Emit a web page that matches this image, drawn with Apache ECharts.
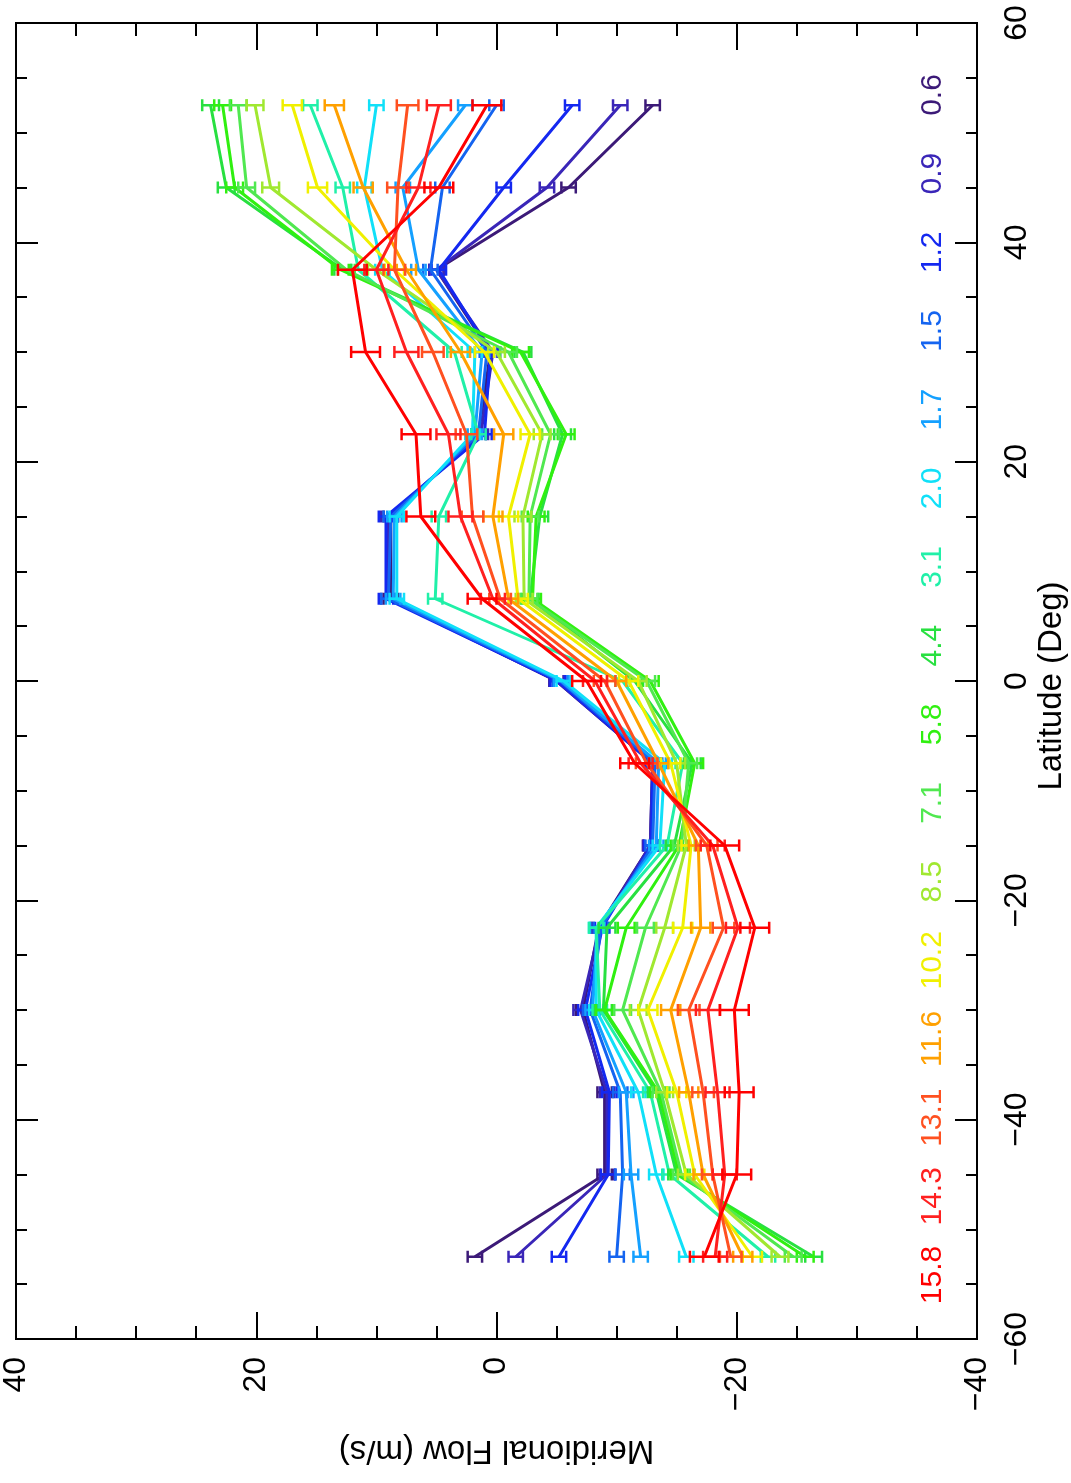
<!DOCTYPE html>
<html><head><meta charset="utf-8">
<script src="https://cdn.jsdelivr.net/npm/echarts@6/dist/echarts.min.js"></script>
<style>html,body{margin:0;padding:0;background:#fff}#c{width:1071px;height:1483px}</style>
</head><body><div id="c"></div>
<script>
// Latitude bins (deg)
const latitudes = [-52.5, -45, -37.5, -30, -22.5, -15, -7.5, 0, 7.5, 15, 22.5, 30, 37.5, 45, 52.5];
// Legend labels (depth / band values) and colours
const seriesLabels = ['0.6','0.9','1.2','1.5','1.7','2.0','3.1','4.4','5.8','7.1','8.5','10.2','11.6','13.1','14.3','15.8'];
const seriesColors = ['#3c1a78','#3a26b8','#1428f0','#1464f0','#14a0ff','#10e0f8','#20f0a8','#28e040','#30f010','#50e850','#a0e830','#f0f000','#ffa000','#ff5020','#ff2020','#ff0000'];
// Meridional flow (m/s) per series, ordered as latitudes
const flow_0_6  = [1.8, -9.0, -9.0, -7.2, -8.5, -12.8, -13.0, -5.0, 8.8, 8.8, 1.5, 0.5, 5.0, -6.0, -13.0];
const flow_0_9  = [-1.6, -9.2, -9.2, -7.0, -8.6, -12.8, -13.0, -5.0, 9.0, 9.0, 1.3, 0.3, 5.0, -4.2, -10.3];
const flow_1_2  = [-5.2, -9.3, -9.4, -7.4, -8.8, -12.9, -13.0, -5.1, 9.2, 9.2, 1.0, 0.5, 4.8, -0.6, -6.3];
const flow_1_5  = [-10.0, -10.5, -10.3, -7.8, -8.7, -13.0, -13.2, -5.3, 9.0, 8.8, 1.5, 0.8, 5.5, 4.5, 0.0];
const flow_1_7  = [-12.0, -11.2, -10.8, -8.0, -8.4, -13.3, -13.5, -5.4, 8.6, 8.5, 1.8, 1.2, 6.5, 7.8, 2.6];
const flow_2_0  = [-15.8, -13.3, -11.8, -8.3, -8.3, -13.6, -14.0, -5.6, 8.3, 8.3, 2.0, 1.8, 9.5, 11.0, 10.0];
const flow_3_1  = [-22.6, -14.4, -12.8, -8.6, -8.3, -14.2, -15.5, -10.5, 5.1, 4.8, 1.5, 3.5, 11.5, 12.8, 15.5];
const flow_4_4  = [-26.4, -15.0, -13.3, -8.9, -9.2, -14.8, -16.3, -11.5, -2.8, -3.6, -5.5, -2.2, 12.8, 22.5, 23.8];
const flow_5_8  = [-25.7, -15.2, -13.5, -9.0, -10.8, -15.2, -16.5, -12.8, -3.0, -3.3, -5.8, -2.0, 13.0, 21.8, 22.8];
const flow_7_1  = [-24.7, -15.4, -13.7, -10.5, -12.4, -15.4, -16.0, -12.5, -2.7, -2.8, -4.5, -1.0, 12.5, 20.8, 21.5];
const flow_8_5  = [-23.6, -15.8, -14.0, -11.8, -14.0, -15.8, -15.0, -11.8, -2.3, -2.2, -3.8, 0.0, 10.0, 18.8, 20.1];
const flow_10_2 = [-21.3, -16.5, -15.0, -12.6, -15.5, -16.2, -14.5, -11.0, -1.8, -1.0, -2.8, 1.0, 8.5, 14.9, 17.0];
const flow_11_6 = [-20.5, -17.2, -16.0, -14.5, -17.0, -16.8, -13.5, -10.0, -1.0, 0.3, -0.6, 3.0, 7.5, 11.1, 13.5];
const flow_13_1 = [-19.5, -18.0, -17.2, -16.0, -18.9, -17.5, -12.5, -9.0, -0.3, 2.0, 2.5, 5.3, 8.5, 8.2, 7.4];
const flow_14_3 = [-18.2, -19.0, -18.4, -17.6, -20.1, -18.0, -12.0, -8.2, 0.3, 3.0, 4.0, 7.5, 10.0, 6.5, 4.8];
const flow_15_8 = [-17.3, -20.0, -20.2, -19.8, -21.5, -19.0, -11.5, -7.5, 1.2, 6.3, 6.7, 10.9, 12.0, 4.8, 0.8];
// Half-width of error bars (m/s) per series
const errorHalf = [0.6, 0.6, 0.6, 0.6, 0.6, 0.6, 0.6, 0.7, 0.7, 0.7, 0.7, 0.8, 0.8, 0.9, 1.0, 1.2];
// Axis tick values
const flowTicks = [40, 20, 0, -20, -40];
const latTicks = [-60, -40, -20, 0, 20, 40, 60];

const allFlows = [flow_0_6, flow_0_9, flow_1_2, flow_1_5, flow_1_7, flow_2_0, flow_3_1, flow_4_4, flow_5_8, flow_7_1, flow_8_5, flow_10_2, flow_11_6, flow_13_1, flow_14_3, flow_15_8];

const FONT = '"Liberation Sans", Arial, Helvetica, sans-serif';
const minus = v => String(v).replace('-', '\u2212');

const series = [];
allFlows.forEach((fl, k) => {
  const color = seriesColors[k];
  series.push({
    type: 'line', name: seriesLabels[k], xAxisIndex: 0, yAxisIndex: 0,
    data: fl.map((f, i) => [f, latitudes[i]]),
    showSymbol: false, symbol: 'none', z: 2 + k * 0.01,
    lineStyle: { color, width: 3 }, itemStyle: { color },
    silent: true
  });
  series.push({
    type: 'custom', name: seriesLabels[k] + ' err', xAxisIndex: 0, yAxisIndex: 0,
    z: 2 + k * 0.01 + 0.005, silent: true,
    data: fl.map((f, i) => [f, latitudes[i], errorHalf[k]]),
    renderItem: (params, api) => {
      const f = api.value(0), lat = api.value(1), e = api.value(2);
      const a = api.coord([f - e, lat]), b = api.coord([f + e, lat]);
      const h = 6, st = { stroke: color, lineWidth: 2.5 };
      return { type: 'group', children: [
        { type: 'line', shape: { x1: a[0], y1: a[1], x2: b[0], y2: b[1] }, style: st },
        { type: 'line', shape: { x1: a[0], y1: a[1] - h, x2: a[0], y2: a[1] + h }, style: st },
        { type: 'line', shape: { x1: b[0], y1: b[1] - h, x2: b[0], y2: b[1] + h }, style: st }
      ]};
    }
  });
});

const axisLineStyle = { color: '#000', width: 2 };
const option = {
  animation: false,
  backgroundColor: '#fff',
  grid: { left: 16, right: 94, top: 23, bottom: 144, show: true, borderColor: '#000', borderWidth: 2, backgroundColor: 'transparent' },
  xAxis: [
    { type: 'value', min: -40, max: 40, interval: 20, inverse: true, position: 'bottom',
      axisLine: { show: true, onZero: false, lineStyle: axisLineStyle },
      axisTick: { show: true, inside: true, length: 27, lineStyle: axisLineStyle },
      minorTick: { show: true, splitNumber: 4, length: 13, lineStyle: axisLineStyle },
      splitLine: { show: false },
      axisLabel: { rotate: 90, fontSize: 32, color: '#000', margin: 18, fontFamily: FONT,
        formatter: v => flowTicks.includes(v) ? minus(v) : '' } },
    { type: 'value', min: -40, max: 40, interval: 20, inverse: true, position: 'top',
      axisLine: { show: true, onZero: false, lineStyle: axisLineStyle },
      axisTick: { show: true, inside: true, length: 27, lineStyle: axisLineStyle },
      minorTick: { show: true, splitNumber: 4, length: 13, lineStyle: axisLineStyle },
      splitLine: { show: false }, axisLabel: { show: false } }
  ],
  yAxis: [
    { type: 'value', min: -60, max: 60, interval: 20, position: 'right',
      axisLine: { show: true, onZero: false, lineStyle: axisLineStyle },
      axisTick: { show: true, inside: true, length: 22, lineStyle: axisLineStyle },
      minorTick: { show: true, splitNumber: 4, length: 11, lineStyle: axisLineStyle },
      splitLine: { show: false },
      axisLabel: { rotate: 90, fontSize: 32, color: '#000', margin: 24, fontFamily: FONT,
        formatter: v => latTicks.includes(v) ? minus(v) : '' } },
    { type: 'value', min: -60, max: 60, interval: 20, position: 'left',
      axisLine: { show: true, onZero: false, lineStyle: axisLineStyle },
      axisTick: { show: true, inside: true, length: 22, lineStyle: axisLineStyle },
      minorTick: { show: true, splitNumber: 4, length: 11, lineStyle: axisLineStyle },
      splitLine: { show: false }, axisLabel: { show: false } }
  ],
  series,
  graphic: []
};

const chart = echarts.init(document.getElementById('c'), null, { renderer: 'canvas' });
chart.setOption(option);

// Axis titles and rotated legend labels, positioned from the grid
const g = [];
const yTop = chart.convertToPixel({ yAxisIndex: 0 }, 60), yBot = chart.convertToPixel({ yAxisIndex: 0 }, -60);
const xL = chart.convertToPixel({ xAxisIndex: 0 }, 40), xR = chart.convertToPixel({ xAxisIndex: 0 }, -40);
g.push({ type: 'text', x: (xL + xR) / 2, y: 1450, rotation: Math.PI,
  style: { text: 'Meridional Flow (m/s)', font: '33px ' + FONT, fill: '#000', align: 'center', verticalAlign: 'middle' } });
g.push({ type: 'text', x: 1052, y: (yTop + yBot) / 2 + 5, rotation: Math.PI / 2,
  style: { text: 'Latitude (Deg)', font: '33px ' + FONT, fill: '#000', align: 'center', verticalAlign: 'middle' } });
const legTop = 95, legBot = 1275;
seriesLabels.forEach((lab, k) => {
  const y = legTop + (legBot - legTop) * k / (seriesLabels.length - 1);
  g.push({ type: 'text', x: 933, y, rotation: Math.PI / 2,
    style: { text: lab, font: '30px ' + FONT, fill: seriesColors[k], align: 'center', verticalAlign: 'middle' } });
});
chart.setOption({ graphic: g });
</script>
</body></html>
